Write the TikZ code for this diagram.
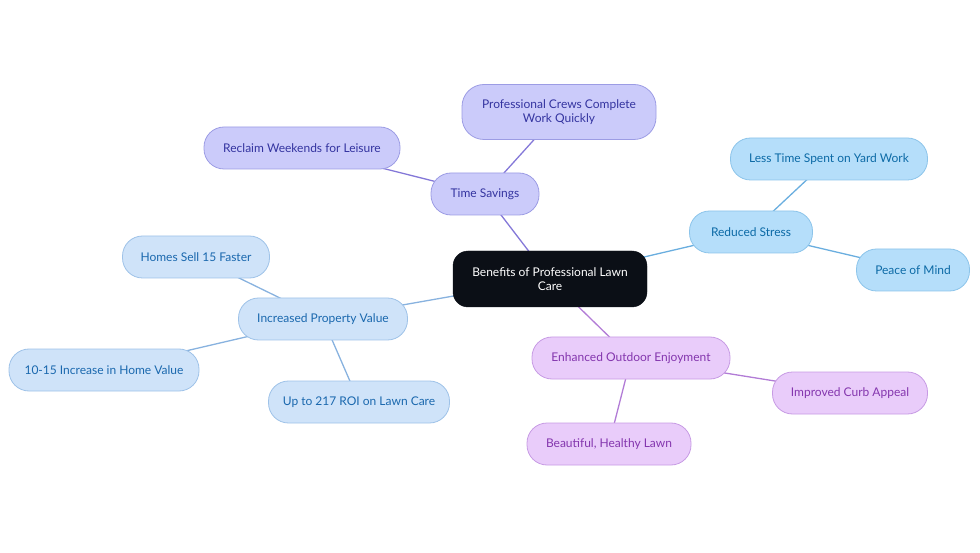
\documentclass[tikz,border=0pt]{standalone}
\usepackage{fontspec}
\setmainfont{Lato}
\usetikzlibrary{backgrounds}
\definecolor{tsfill}{HTML}{CBCBFA}
\definecolor{tsdraw}{HTML}{9C9CE4}
\definecolor{tstext}{HTML}{3434A0}
\definecolor{tsline}{HTML}{8478D8}
\definecolor{rsfill}{HTML}{B5DEFA}
\definecolor{rsdraw}{HTML}{8CC4EA}
\definecolor{rstext}{HTML}{0C6AA6}
\definecolor{rsline}{HTML}{6AAEDF}
\definecolor{eofill}{HTML}{E9CCFA}
\definecolor{eodraw}{HTML}{C79BE4}
\definecolor{eotext}{HTML}{8436AE}
\definecolor{eoline}{HTML}{B27CD6}
\definecolor{ipfill}{HTML}{CFE3F9}
\definecolor{ipdraw}{HTML}{9EC2E8}
\definecolor{iptext}{HTML}{1A68AE}
\definecolor{ipline}{HTML}{88B2DF}
\definecolor{rootfill}{HTML}{0B0F16}
\tikzset{
  pill/.style={rounded corners=20pt, minimum height=42pt, inner xsep=10pt, line width=0.8pt, align=center, font=\fontsize{12pt}{13.5pt}\selectfont},
  ts/.style={pill, fill=tsfill, draw=tsdraw, text=tstext},
  rs/.style={pill, fill=rsfill, draw=rsdraw, text=rstext},
  eo/.style={pill, fill=eofill, draw=eodraw, text=eotext},
  ip/.style={pill, fill=ipfill, draw=ipdraw, text=iptext},
  conn/.style={line width=1.3pt},
}
\begin{document}
\begin{tikzpicture}[x=1pt,y=-1pt]
\useasboundingbox (0,0) rectangle (980,553);
% root
\node[rounded corners=15pt, fill=rootfill, draw=rootfill, text=white, minimum width=194pt, minimum height=56pt, align=center, font=\fontsize{12pt}{13.5pt}\selectfont] (root) at (550,279) {Benefits of Professional Lawn\\Care};
% level 1
\node[ts, minimum width=108pt] (tsv) at (485,194) {Time Savings};
\node[rs, minimum width=123pt] (rst) at (751,232) {Reduced Stress};
\node[eo, minimum width=198pt] (eoe) at (631,358) {Enhanced Outdoor Enjoyment};
\node[ip, minimum width=169pt] (ipv) at (323,319) {Increased Property Value};
% level 2
\node[ts, minimum width=194pt, minimum height=55pt, rounded corners=22pt] (pcc) at (559,112) {Professional Crews Complete\\Work Quickly};
\node[ts, minimum width=196pt] (rwl) at (302,148) {Reclaim Weekends for Leisure};
\node[rs, minimum width=197pt] (ltw) at (829,159) {Less Time Spent on Yard Work};
\node[rs, minimum width=113pt] (pom) at (913,270) {Peace of Mind};
\node[eo, minimum width=155pt] (ica) at (850,393) {Improved Curb Appeal};
\node[eo, minimum width=164pt] (bhl) at (609,444) {Beautiful, Healthy Lawn};
\node[ip, minimum width=147pt] (hsf) at (196,257) {Homes Sell 15 Faster};
\node[ip, minimum width=190pt] (ihv) at (104,370) {10-15 Increase in Home Value};
\node[ip, minimum width=181pt] (roi) at (359,402) {Up to 217 ROI on Lawn Care};
% connectors
\begin{scope}[on background layer]
\draw[conn, tsline] (root.center) -- (tsv.center);
\draw[conn, tsline] (tsv.center) -- (pcc.center);
\draw[conn, tsline] (tsv.center) -- (rwl.center);
\draw[conn, rsline] (root.center) -- (rst.center);
\draw[conn, rsline] (rst.center) -- (ltw.center);
\draw[conn, rsline] (rst.center) -- (pom.center);
\draw[conn, eoline] (root.center) -- (eoe.center);
\draw[conn, eoline] (eoe.center) -- (ica.center);
\draw[conn, eoline] (eoe.center) -- (bhl.center);
\draw[conn, ipline] (root.center) -- (ipv.center);
\draw[conn, ipline] (ipv.center) -- (hsf.center);
\draw[conn, ipline] (ipv.center) -- (ihv.center);
\draw[conn, ipline] (ipv.center) -- (roi.center);
\end{scope}
\end{tikzpicture}
\end{document}
